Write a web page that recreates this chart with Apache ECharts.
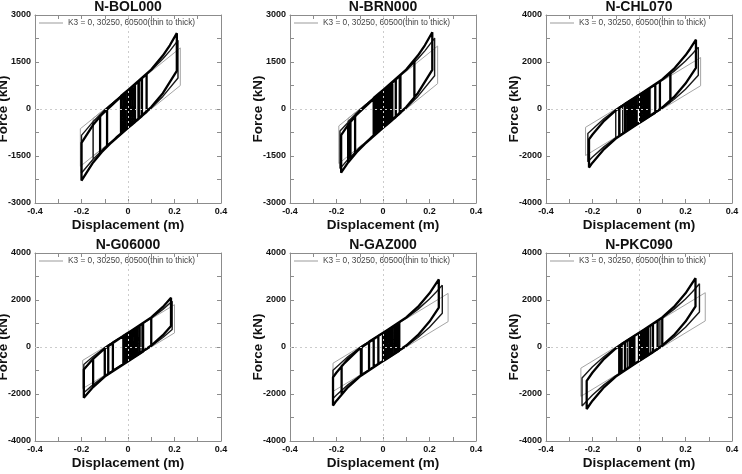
<!DOCTYPE html>
<html><head><meta charset="utf-8">
<script src="https://cdn.jsdelivr.net/npm/echarts@6/dist/echarts.min.js"></script>
<style>html,body{margin:0;padding:0;background:#fff}#c{width:742px;height:474px}</style>
</head><body><div id="c"></div>
<script>
// ---- tick labels & text ----
const xTicks = [-0.4, -0.2, 0, 0.2, 0.4];
const yTicksA = [-3000, -1500, 0, 1500, 3000];
const yTicksB = [-4000, -2000, 0, 2000, 4000];
const titles = ['N-BOL000', 'N-BRN000', 'N-CHL070', 'N-G06000', 'N-GAZ000', 'N-PKC090'];
const legendLabel = 'K3 = 0, 30250, 60500(thin to thick)';
const xName = 'Displacement (m)';
const yName = 'Force (kN)';

// ---- hysteresis paths [displacement (m), force (kN)] ----
const bolThin = [[0,0],[0,600],[0.225,1950],[0.225,750],[-0.205,-1830],[-0.205,-630],[0.05,900],[0.05,-300],[-0.15,-1500],[-0.15,-300],[0,600],[0,0]];
const bolMid = [[0,0],[0,600],[0.05,904],[0.05,-296],[-0.1,-1230],[-0.15,-1602],[-0.15,-402],[-0.1,-30],[0,600],[0.1,1230],[0.15,1602],[0.18,1856],[0.215,2191],[0.215,991],[0.15,402],[0.1,30],[0,-600],[-0.1,-1230],[-0.15,-1602],[-0.2,-2042],[-0.2,-842],[-0.15,-402],[-0.1,-30],[0,600],[0.03,781],[0.03,-419],[0,-600],[0,0]];
const bolThick = [[0,0],[0,600],[0.02,720],[0.02,-480],[-0.02,-720],[-0.02,480],[0.03,782],[0.03,-418],[-0.03,-782],[-0.03,418],[0.045,876],[0.045,-324],[-0.05,-908],[-0.12,-1425],[-0.12,-225],[0,600],[0.08,1111],[0.08,-89],[0,-600],[-0.09,-1184],[-0.09,16],[0,600],[0.1,1261],[0.15,1704],[0.18,2033],[0.21,2420],[0.21,1220],[0.15,504],[0.1,61],[0,-600],[-0.1,-1261],[-0.15,-1704],[-0.2,-2284],[-0.2,-1084],[-0.15,-504],[-0.1,-61],[0,600],[0.06,973],[0.06,-227],[-0.01,-660],[-0.01,540],[0.01,660],[0.01,-540],[0,-600],[0,0]];

const brnThin = [[0,0],[0,600],[0.04,840],[0.04,-360],[-0.15,-1500],[-0.15,-300],[0.235,2010],[0.235,810],[-0.19,-1740],[-0.19,-540],[0,600],[0,0]];
const brnMid = [[0,0],[0,600],[0.02,720],[0.02,-480],[-0.05,-904],[-0.12,-1372],[-0.12,-172],[0,600],[0.07,1030],[0.07,-170],[0,-600],[-0.1,-1230],[-0.15,-1602],[-0.15,-402],[-0.1,-30],[0,600],[0.1,1230],[0.15,1602],[0.18,1856],[0.222,2263],[0.222,1063],[0.15,402],[0.1,30],[0,-600],[-0.1,-1230],[-0.15,-1602],[-0.185,-1902],[-0.185,-702],[-0.1,-30],[0,600],[0.01,660],[0.01,-540],[0,-600],[0,0]];
const brnThick = [[0,0],[0,600],[0.01,660],[0.01,-540],[-0.01,-660],[-0.01,540],[0.02,720],[0.02,-480],[-0.02,-720],[-0.02,480],[0.03,782],[0.03,-418],[-0.03,-782],[-0.03,418],[0.04,844],[0.04,-356],[-0.04,-844],[-0.04,356],[0.055,940],[0.055,-260],[-0.05,-908],[-0.12,-1425],[-0.12,-225],[0,600],[0.075,1076],[0.075,-124],[0,-600],[-0.1,-1261],[-0.14,-1606],[-0.14,-406],[-0.1,-61],[0,600],[0.1,1261],[0.135,1559],[0.135,359],[0.1,61],[0,-600],[-0.1,-1261],[-0.15,-1704],[-0.15,-504],[-0.1,-61],[0,600],[0.1,1261],[0.15,1704],[0.18,2033],[0.212,2448],[0.212,1248],[0.15,504],[0.1,61],[0,-600],[-0.1,-1261],[-0.15,-1704],[-0.18,-2033],[-0.18,-833],[-0.15,-504],[-0.1,-61],[0,600],[0.035,813],[0.035,-387],[-0.005,-630],[-0.005,570],[0.015,690],[0.015,-510],[-0.025,-751],[-0.025,449],[0.025,751],[0.025,-449],[-0.035,-813],[-0.035,387],[0.005,630],[0.005,-570],[0,-600],[0,0]];

const chlThin = [[0,0],[0,600],[0.05,900],[0.05,-300],[-0.08,-1080],[-0.08,120],[0.265,2190],[0.265,990],[-0.23,-1980],[-0.23,-780],[0,600],[0,0]];
const chlMid = [[0,0],[0,600],[0.03,781],[0.03,-419],[-0.07,-1030],[-0.07,170],[0,600],[0.1,1230],[0.135,1484],[0.135,284],[0.1,30],[0,-600],[-0.1,-1230],[-0.1,-30],[0,600],[0.1,1230],[0.15,1602],[0.2,2042],[0.23,2348],[0.255,2632],[0.255,1432],[0.2,842],[0.15,402],[0.1,30],[0,-600],[-0.1,-1230],[-0.15,-1602],[-0.2,-2042],[-0.22,-2242],[-0.22,-1042],[-0.15,-402],[-0.1,-30],[0,600],[0,0]];
const chlThick = [[0,0],[0,600],[0.01,660],[0.01,-540],[-0.01,-660],[-0.01,540],[0.02,720],[0.02,-480],[-0.02,-720],[-0.02,480],[0.03,782],[0.03,-418],[-0.03,-782],[-0.03,418],[0.04,844],[0.04,-356],[-0.04,-844],[-0.04,356],[0.045,876],[0.045,-324],[-0.05,-908],[-0.05,292],[0,600],[0.07,1041],[0.07,-159],[0,-600],[-0.06,-973],[-0.06,227],[0,600],[0.1,1261],[0.135,1559],[0.135,359],[0.1,61],[0,-600],[-0.085,-1147],[-0.085,53],[0,600],[0.1,1261],[0.15,1704],[0.2,2284],[0.22,2564],[0.245,2948],[0.245,1748],[0.2,1084],[0.15,504],[0.1,61],[0,-600],[-0.1,-1261],[-0.15,-1704],[-0.2,-2284],[-0.215,-2491],[-0.215,-1291],[-0.2,-1084],[-0.15,-504],[-0.1,-61],[0,600],[0.09,1184],[0.09,-16],[0,-600],[-0.015,-690],[-0.015,510],[0.025,751],[0.025,-449],[-0.035,-813],[-0.035,387],[0.005,630],[0.005,-570],[-0.045,-876],[-0.045,324],[0,600],[0,0]];

const g06Thin = [[0,0],[0,600],[0.2,1800],[0.2,600],[-0.195,-1770],[-0.195,-570],[0.05,900],[0.05,-300],[-0.1,-1200],[-0.1,0],[0,600],[0,0]];
const g06Mid = [[0,0],[0,600],[0.06,967],[0.06,-233],[0,-600],[-0.1,-1230],[-0.1,-30],[0,600],[0.1,1230],[0.15,1602],[0.19,1947],[0.19,747],[0.15,402],[0.1,30],[0,-600],[-0.1,-1230],[-0.15,-1602],[-0.19,-1947],[-0.19,-747],[-0.15,-402],[-0.1,-30],[0,600],[0,0]];
const g06Thick = [[0,0],[0,600],[0.01,660],[0.01,-540],[-0.01,-660],[-0.01,540],[0.02,720],[0.02,-480],[-0.02,-720],[-0.02,480],[0.03,782],[0.03,-418],[-0.005,-630],[-0.005,570],[0.04,844],[0.04,-356],[-0.065,-1007],[-0.065,193],[0.05,908],[0.05,-292],[-0.085,-1147],[-0.085,53],[0.065,1007],[0.065,-193],[-0.1,-1261],[-0.1,-61],[0,600],[0.1,1261],[0.1,61],[0,-600],[-0.1,-1261],[-0.15,-1704],[-0.15,-504],[-0.1,-61],[0,600],[0.1,1261],[0.15,1704],[0.185,2093],[0.185,893],[0.15,504],[0.1,61],[0,-600],[-0.1,-1261],[-0.15,-1704],[-0.19,-2155],[-0.19,-955],[-0.15,-504],[-0.1,-61],[0,600],[0.015,690],[0.015,-510],[0,-600],[0,0]];

const gazThin = [[0,0],[0,600],[0.28,2280],[0.28,1080],[-0.215,-1890],[-0.215,-690],[0.03,780],[0.03,-420],[-0.09,-1140],[-0.09,60],[0,600],[0,0]];
const gazMid = [[0,0],[0,600],[0.04,842],[0.04,-358],[0,-600],[-0.09,-1162],[-0.09,38],[0,600],[0.1,1230],[0.15,1602],[0.2,2042],[0.23,2348],[0.255,2632],[0.255,1432],[0.2,842],[0.15,402],[0.1,30],[0,-600],[-0.1,-1230],[-0.15,-1602],[-0.2,-2042],[-0.215,-2191],[-0.215,-991],[-0.15,-402],[-0.1,-30],[0,600],[0,0]];
const gazThick = [[0,0],[0,600],[0.02,720],[0.02,-480],[0.005,-570],[0.005,630],[0.03,782],[0.03,-418],[0.01,-540],[0.01,660],[0.04,844],[0.04,-356],[-0.02,-720],[-0.02,480],[0.05,908],[0.05,-292],[-0.04,-844],[-0.04,356],[0.06,973],[0.06,-227],[-0.06,-973],[-0.06,227],[0.07,1041],[0.07,-159],[0,-600],[-0.095,-1222],[-0.095,-22],[0,600],[0.1,1261],[0.15,1704],[0.2,2284],[0.24,2876],[0.24,1676],[0.2,1084],[0.15,504],[0.1,61],[0,-600],[-0.1,-1261],[-0.15,-1704],[-0.2,-2284],[-0.215,-2491],[-0.215,-1291],[-0.2,-1084],[-0.15,-504],[-0.1,-61],[0,600],[0.065,1007],[0.065,-193],[0,-600],[-0.1,-1261],[-0.15,-1704],[-0.178,-2009],[-0.178,-809],[-0.1,-61],[0,600],[0.015,690],[0.015,-510],[0,-600],[0,0]];

const pkcThin = [[0,0],[0,600],[0.285,2310],[0.285,1110],[-0.25,-2100],[-0.25,-900],[0.06,960],[0.06,-240],[-0.07,-1020],[-0.07,180],[0,600],[0,0]];
const pkcMid = [[0,0],[0,600],[0.05,904],[0.05,-296],[-0.05,-904],[-0.05,296],[0,600],[0.09,1162],[0.09,-38],[0,-600],[-0.08,-1095],[-0.08,105],[0,600],[0.1,1230],[0.15,1602],[0.2,2042],[0.23,2348],[0.26,2692],[0.26,1492],[0.2,842],[0.15,402],[0.1,30],[0,-600],[-0.1,-1230],[-0.15,-1602],[-0.2,-2042],[-0.245,-2515],[-0.245,-1315],[-0.2,-842],[-0.15,-402],[-0.1,-30],[0,600],[0,0]];
const pkcThick = [[0,0],[0,600],[0.02,720],[0.02,-480],[-0.02,-720],[-0.02,480],[0.04,844],[0.04,-356],[-0.04,-844],[-0.04,356],[0.06,973],[0.06,-227],[-0.06,-973],[-0.06,227],[0.08,1111],[0.08,-89],[0,-600],[-0.075,-1076],[-0.075,124],[0,600],[0.1,1261],[0.1,61],[0,-600],[-0.085,-1147],[-0.085,53],[0,600],[0.1,1261],[0.15,1704],[0.2,2284],[0.243,2926],[0.243,1726],[0.2,1084],[0.15,504],[0.1,61],[0,-600],[-0.1,-1261],[-0.15,-1704],[-0.2,-2284],[-0.225,-2639],[-0.225,-1439],[-0.2,-1084],[-0.15,-504],[-0.1,-61],[0,600],[0.03,782],[0.03,-418],[-0.03,-782],[-0.03,418],[0.01,660],[0.01,-540],[0,-600],[0,0]];

const panels = [
  { title: titles[0], thin: bolThin, mid: bolMid, thick: bolThick, yTicks: yTicksA },
  { title: titles[1], thin: brnThin, mid: brnMid, thick: brnThick, yTicks: yTicksA },
  { title: titles[2], thin: chlThin, mid: chlMid, thick: chlThick, yTicks: yTicksB },
  { title: titles[3], thin: g06Thin, mid: g06Mid, thick: g06Thick, yTicks: yTicksB },
  { title: titles[4], thin: gazThin, mid: gazMid, thick: gazThick, yTicks: yTicksB },
  { title: titles[5], thin: pkcThin, mid: pkcMid, thick: pkcThick, yTicks: yTicksB }
];

// ---- layout & style ----
const layout = [
  { left: 35, top: 15 }, { left: 290, top: 15 }, { left: 546, top: 15 },
  { left: 35, top: 253 }, { left: 290, top: 253 }, { left: 546, top: 253 }
];
const W = 186, H = 188;
const FONT = '"Liberation Sans",Arial,Helvetica,sans-serif';
const AX = '#8c8c8c';

function labelFrom(ticks) {
  return v => {
    const t = ticks.find(t => Math.abs(t - v) < 1e-6);
    return t === undefined ? '' : String(t);
  };
}
function baseAxis(ticks) {
  return {
    type: 'value',
    min: ticks[0], max: ticks[ticks.length - 1],
    interval: (ticks[1] - ticks[0]) / 2,
    splitLine: { show: false },
    axisLine: { show: true, onZero: false, lineStyle: { color: AX, width: 1 } },
    axisTick: { show: true, inside: true, length: 4, lineStyle: { color: AX, width: 1 } }
  };
}

const grid = [], xAxis = [], yAxis = [], title = [], legend = [], series = [];
panels.forEach((p, i) => {
  const L = layout[i];
  grid.push({ left: L.left, top: L.top, width: W, height: H, containLabel: false, outerBoundsMode: 'none' });
  xAxis.push(Object.assign(baseAxis(xTicks), {
    gridIndex: i, position: 'bottom',
    name: xName, nameLocation: 'middle', nameGap: 15, nameMoveOverlap: false,
    nameTextStyle: { fontFamily: FONT, fontWeight: 'bold', fontSize: 13.5, color: '#111' },
    axisLabel: { fontFamily: FONT, fontWeight: 'bold', fontSize: 9, color: '#111', margin: 4, formatter: labelFrom(xTicks) }
  }));
  xAxis.push(Object.assign(baseAxis(xTicks), { gridIndex: i, position: 'top', axisLabel: { show: false } }));
  yAxis.push(Object.assign(baseAxis(p.yTicks), {
    gridIndex: i, position: 'left',
    name: yName, nameLocation: 'middle', nameGap: 25, nameMoveOverlap: false,
    nameTextStyle: { fontFamily: FONT, fontWeight: 'bold', fontSize: 13.5, color: '#111' },
    axisLabel: { fontFamily: FONT, fontWeight: 'bold', fontSize: 9, color: '#111', margin: 4, formatter: labelFrom(p.yTicks) }
  }));
  yAxis.push(Object.assign(baseAxis(p.yTicks), { gridIndex: i, position: 'right', axisLabel: { show: false } }));
  title.push({
    text: p.title, left: L.left + W / 2, top: L.top - 15, textAlign: 'center', padding: 0,
    textStyle: { fontFamily: FONT, fontWeight: 'bold', fontSize: 14, color: '#111' }
  });
  legend.push({
    data: [legendLabel], left: L.left + 4, top: L.top + 4, padding: 0, itemGap: 0,
    icon: 'rect', itemWidth: 24, itemHeight: 1, selectedMode: false,
    textStyle: { fontFamily: FONT, fontSize: 8.3, color: '#444' }
  });
  const common = { type: 'line', xAxisIndex: 2 * i, yAxisIndex: 2 * i, symbol: 'none', silent: true, animation: false };
  series.push(Object.assign({}, common, {
    name: legendLabel, data: p.thin, z: 2,
    lineStyle: { color: '#9a9a9a', width: 0.9 }, itemStyle: { color: '#9a9a9a' },
    markLine: {
      silent: true, symbol: 'none', animation: false, label: { show: false },
      lineStyle: { type: [2, 3], color: '#cccccc', width: 1 },
      data: [{ xAxis: 0 }, { yAxis: 0 }]
    }
  }));
  series.push(Object.assign({}, common, {
    name: 'K3 = 30250', data: p.mid, z: 3,
    lineStyle: { color: '#1a1a1a', width: 1.4 }, itemStyle: { color: '#1a1a1a' }
  }));
  series.push(Object.assign({}, common, {
    name: 'K3 = 60500', data: p.thick, z: 4,
    lineStyle: { color: '#000', width: 2.3 }, itemStyle: { color: '#000' }
  }));
});

const chart = echarts.init(document.getElementById('c'), null, { renderer: 'canvas' });
chart.setOption({ animation: false, backgroundColor: '#fff', grid, xAxis, yAxis, title, legend, series });
</script>
</body></html>
